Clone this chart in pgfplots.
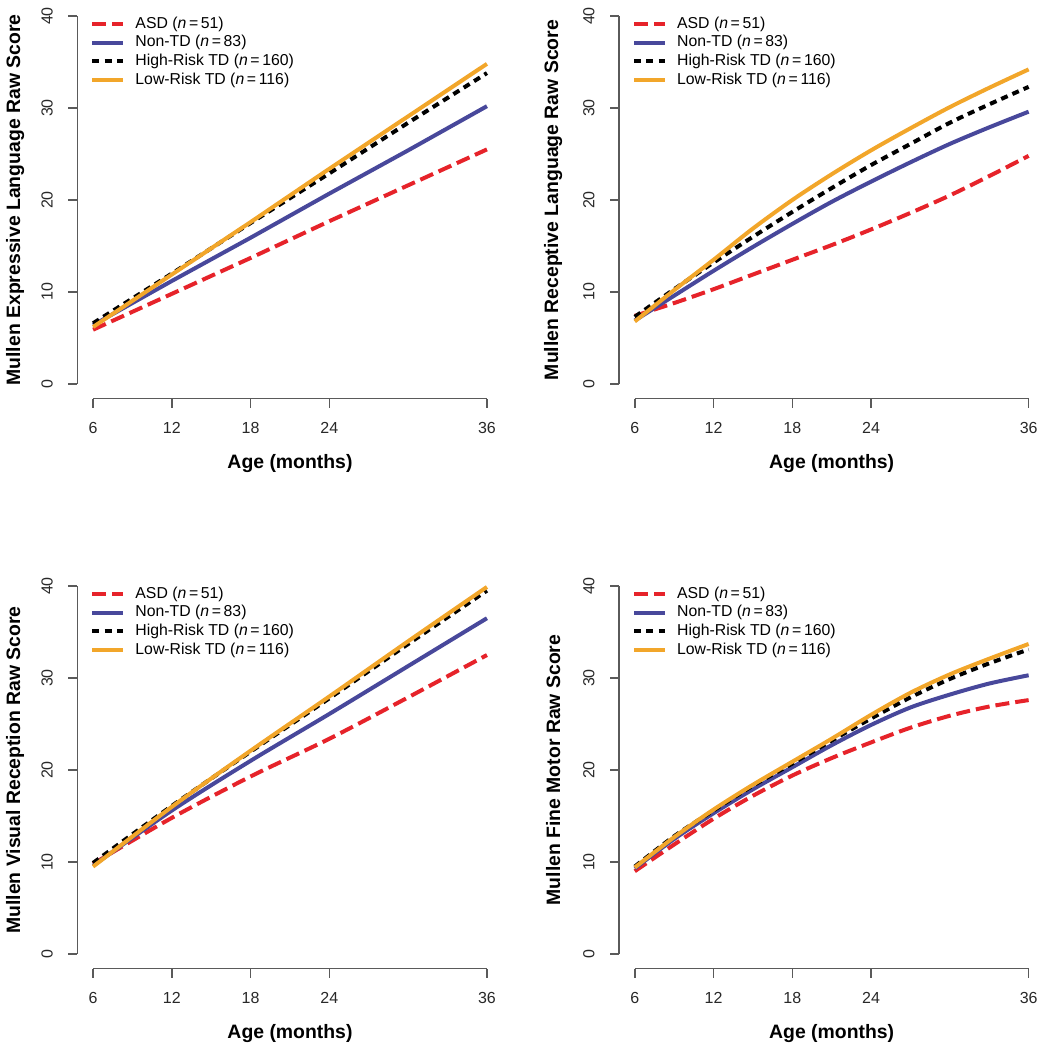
\documentclass[border=0pt]{standalone}
\usepackage{pgfplots}
\usepackage{pgfplotstable}
\usepackage{fontspec}
\setmainfont{Liberation Sans}
\pgfplotsset{compat=1.18}

\definecolor{asdred}{RGB}{230,35,42}
\definecolor{ntdblue}{RGB}{72,72,155}
\definecolor{lrorange}{RGB}{242,166,42}
\definecolor{axgray}{RGB}{90,90,90}
\definecolor{labgray}{RGB}{40,40,40}

% Expressive Language
\pgfplotstableread{
age asd nontd hrtd lrtd
6  5.9  6.4  6.6  6.2
12 9.8  11.2 12.0 11.9
18 13.7 15.9 17.5 17.6
24 17.7 20.7 22.9 23.4
30 21.6 25.4 28.4 29.1
36 25.5 30.2 33.8 34.8
}\exptab

% Receptive Language
\pgfplotstableread{
age asd nontd hrtd lrtd
6  7.4  6.9  7.3  6.8
9  8.8  9.6  10.3 10.2
12 10.3 12.3 13.2 13.5
15 11.9 14.9 16.0 16.9
18 13.5 17.4 18.7 20.0
21 15.1 19.8 21.3 22.8
24 16.8 22.0 23.8 25.4
27 18.6 24.1 26.1 27.8
30 20.5 26.1 28.4 30.1
33 22.6 27.9 30.4 32.2
36 24.8 29.6 32.3 34.2
}\rectab

% Visual Reception
\pgfplotstableread{
age asd nontd hrtd lrtd
6  9.8  9.6  9.9  9.5
12 14.8 15.6 16.1 16.0
18 19.3 21.0 22.0 22.1
24 23.4 26.1 27.8 28.0
30 27.9 31.3 33.7 34.0
36 32.5 36.5 39.5 39.9
}\vistab

% Fine Motor
\pgfplotstableread{
age asd nontd hrtd lrtd
6  9.0  9.3  9.5  9.4
9  11.9 12.5 12.8 12.7
12 14.7 15.3 15.6 15.7
15 17.2 17.9 18.3 18.4
18 19.4 20.3 20.7 20.9
21 21.3 22.7 23.2 23.4
24 23.0 24.9 25.6 26.0
27 24.6 26.8 27.9 28.4
30 25.9 28.2 29.9 30.4
33 26.9 29.4 31.6 32.1
36 27.6 30.3 33.1 33.7
}\fmtab

\newcommand{\ticksize}{\fontsize{8pt}{9pt}\selectfont}
\newcommand{\labsize}{\fontsize{9.7pt}{11pt}\selectfont\bfseries}
\newcommand{\legsize}{\fontsize{7.9pt}{9pt}\selectfont}

\pgfplotsset{
  rpanel/.style={
    scale only axis, width=212.7pt, height=198.7pt,
    xmin=4.8, xmax=37.2, ymin=-1.6, ymax=41.6,
    axis line style={draw=none},
    xtick={6,12,18,24,36}, ytick={0,10,20,30,40},
    tick align=outside, tick pos=left,
    major tick length=4.5pt,
    major tick style={axgray, line width=0.75pt},
    tick label style={font=\ticksize, text=labgray},
    xticklabel style={anchor=north, inner sep=0pt, yshift=-7pt},
    yticklabel style={rotate=90, anchor=south, inner sep=0pt, yshift=7.5pt},
    /pgf/number format/assume math mode=true,
    xlabel={Age (months)},
    every axis x label/.style={at={(axis description cs:0.5,-0.163)}, anchor=center, font=\labsize},
    every axis y label/.style={at={(axis description cs:#1,0.5)}, rotate=90, anchor=center, font=\labsize},
    legend style={at={(axis description cs:0.03,0.963)}, anchor=north west,
      draw=none, fill=none, inner sep=0pt, font=\legsize, row sep=1.6pt,
      nodes={inner sep=0pt, text height=5.9pt, text depth=1.8pt},
      /tikz/every odd column/.append style={column sep=5pt}},
    legend cell align=left,
    legend image code/.code={\draw[##1, line cap=butt] (0pt,0pt) -- (15.5pt,0pt);},
    clip=false,
  },
  asd/.style={asdred, line width=2pt, dash pattern=on 7pt off 3pt},
  ntd/.style={ntdblue, line width=2pt},
  hrtd/.style={black, line width=2pt, dash pattern=on 3.5pt off 2.6pt},
  lrtd/.style={lrorange, line width=2pt},
}

\newcommand{\rframe}{%
  \draw[axgray, line width=0.75pt] (axis cs:6,-1.6) -- (axis cs:36,-1.6);
  \draw[axgray, line width=0.75pt] (axis cs:4.8,0) -- (axis cs:4.8,40);
}
\newcommand{\rlegend}{%
  \legend{ASD (\textit{n}\,=\,51), Non-TD (\textit{n}\,=\,83), High-Risk TD (\textit{n}\,=\,160), Low-Risk TD (\textit{n}\,=\,116)}
}

\begin{document}
\begin{tikzpicture}
\useasboundingbox (0,0) rectangle (524pt,-525pt);

\begin{axis}[rpanel, at={(38.65pt,-199.35pt)}, anchor=south west,
  ylabel={Mullen Expressive Language Raw Score},
  every axis y label/.append style={at={(axis description cs:-0.146,0.5)}}]
  \addplot[asd] table[x=age, y=asd] {\exptab};
  \addplot[ntd] table[x=age, y=nontd] {\exptab};
  \addplot[hrtd] table[x=age, y=hrtd] {\exptab};
  \addplot[lrtd] table[x=age, y=lrtd] {\exptab};
  \rlegend
  \rframe
\end{axis}

\begin{axis}[rpanel, at={(309.5pt,-199.35pt)}, anchor=south west,
  ylabel={Mullen Receptive Language Raw Score},
  every axis y label/.append style={at={(axis description cs:-0.155,0.5)}}]
  \addplot[asd, smooth] table[x=age, y=asd] {\rectab};
  \addplot[ntd, smooth] table[x=age, y=nontd] {\rectab};
  \addplot[hrtd, smooth] table[x=age, y=hrtd] {\rectab};
  \addplot[lrtd, smooth] table[x=age, y=lrtd] {\rectab};
  \rlegend
  \rframe
\end{axis}

\begin{axis}[rpanel, at={(38.65pt,-484.35pt)}, anchor=south west,
  ylabel={Mullen Visual Reception Raw Score},
  every axis y label/.append style={at={(axis description cs:-0.146,0.5)}}]
  \addplot[asd, smooth] table[x=age, y=asd] {\vistab};
  \addplot[ntd, smooth] table[x=age, y=nontd] {\vistab};
  \addplot[hrtd, smooth] table[x=age, y=hrtd] {\vistab};
  \addplot[lrtd, smooth] table[x=age, y=lrtd] {\vistab};
  \rlegend
  \rframe
\end{axis}

\begin{axis}[rpanel, at={(309.5pt,-484.35pt)}, anchor=south west,
  ylabel={Mullen Fine Motor Raw Score},
  every axis y label/.append style={at={(axis description cs:-0.155,0.5)}}]
  \addplot[asd, smooth] table[x=age, y=asd] {\fmtab};
  \addplot[ntd, smooth] table[x=age, y=nontd] {\fmtab};
  \addplot[hrtd, smooth] table[x=age, y=hrtd] {\fmtab};
  \addplot[lrtd, smooth] table[x=age, y=lrtd] {\fmtab};
  \rlegend
  \rframe
\end{axis}
\end{tikzpicture}
\end{document}
